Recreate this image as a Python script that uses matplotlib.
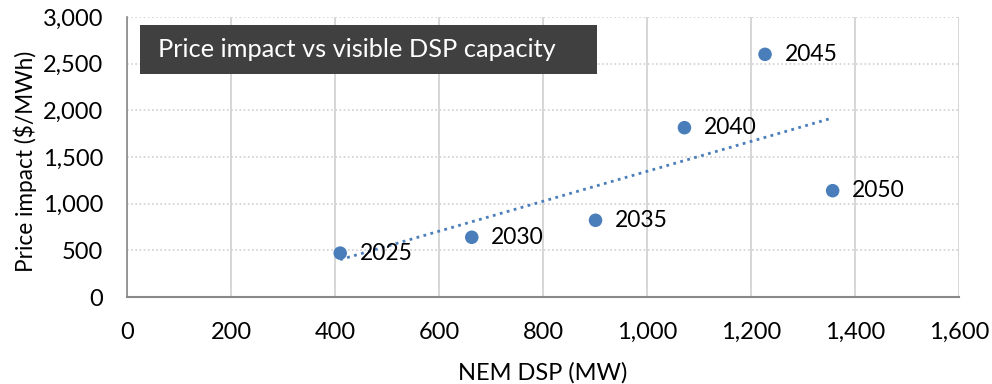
import numpy as np
import matplotlib
matplotlib.use("Agg")
import matplotlib.pyplot as plt
from matplotlib.patches import Rectangle
from matplotlib.ticker import FuncFormatter, MultipleLocator

plt.rcParams['font.family'] = ['Lato', 'DejaVu Sans']

years = ["2025", "2030", "2035", "2040", "2045", "2050"]
dsp_mw = [410, 663, 901, 1072, 1227, 1357]
price_impact = [470, 640, 822, 1814, 2600, 1139]

blue = '#4A7EBB'
grid_c = '#D0D0D0'

fig = plt.figure(figsize=(9.92, 3.84), dpi=100)
ax = fig.add_axes([127/992, 1 - 297/384, (959-127)/992, (297-17)/384])

ax.scatter(dsp_mw, price_impact, s=95, color=blue, zorder=3, edgecolors='none')
for x, y, lab in zip(dsp_mw, price_impact, years):
    ax.annotate(lab, (x, y), xytext=(14, 0), textcoords='offset points',
                va='center', ha='left', fontsize=16.5, color='black', zorder=4)

# linear trendline over the observed range
coef = np.polyfit(dsp_mw, price_impact, 1)
xt = np.array([min(dsp_mw), max(dsp_mw)])
ax.plot(xt, np.polyval(coef, xt), color=blue, lw=2.0,
        linestyle=(0, (1, 1.6)), zorder=2)

ax.set_xlim(0, 1600)
ax.set_ylim(0, 3000)
ax.xaxis.set_major_locator(MultipleLocator(200))
ax.yaxis.set_major_locator(MultipleLocator(500))
fmt = FuncFormatter(lambda v, p: f"{int(v):,}")
ax.xaxis.set_major_formatter(fmt)
ax.yaxis.set_major_formatter(fmt)

ax.grid(axis='x', color=grid_c, lw=1.2, linestyle='-', zorder=0)
ax.grid(axis='y', color=grid_c, lw=1.2, linestyle=(0, (1, 1.5)), zorder=0)
ax.set_axisbelow(True)

for s in ['top', 'right']:
    ax.spines[s].set_visible(False)
ax.spines['left'].set_color('#888888')
ax.spines['bottom'].set_color('#888888')
ax.spines['left'].set_linewidth(1.2)
ax.spines['bottom'].set_linewidth(1.5)
ax.tick_params(length=0, labelsize=17)
ax.tick_params(axis='y', pad=17)
ax.tick_params(axis='x', pad=18)

ax.set_xlabel("NEM DSP (MW)", fontsize=17, va='center')
ax.xaxis.set_label_coords(0.5, -0.271)
ax.set_ylabel("Price impact ($/MWh)", fontsize=16.3, va='center')
ax.yaxis.set_label_coords(-0.1226, 0.485)

# title box
ax.add_patch(Rectangle((0.0156, 0.796), 0.549, 0.175, transform=ax.transAxes,
                       facecolor='#404040', edgecolor='none', zorder=5))
ax.text(0.0373, 0.884, "Price impact vs visible DSP capacity", transform=ax.transAxes,
        fontsize=18.3, color='white', va='center', ha='left', zorder=6)

fig.savefig("out.png", dpi=100)
